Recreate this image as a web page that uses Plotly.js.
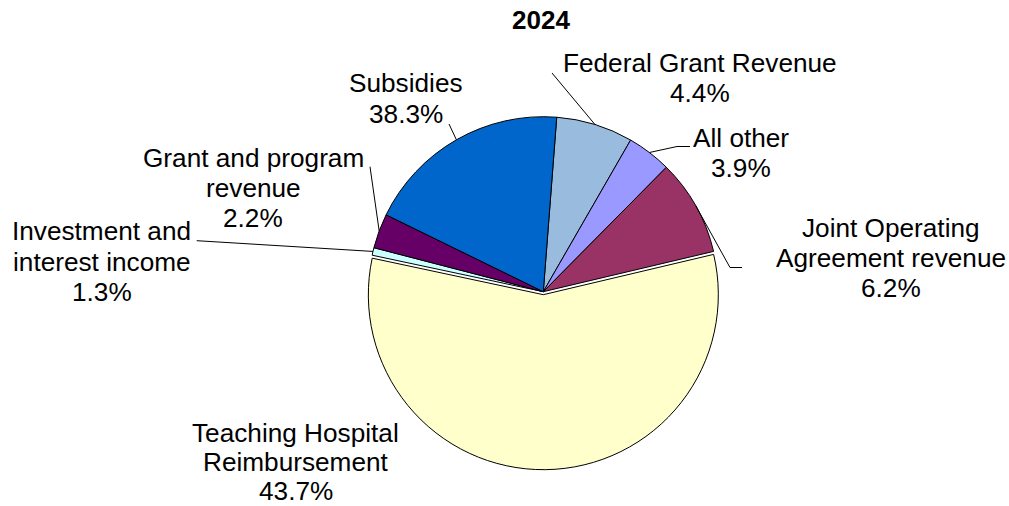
<!DOCTYPE html>
<html><head><meta charset="utf-8">
<script src="https://cdn.plot.ly/plotly-3.0.1.min.js"></script>
<style>html,body{margin:0;padding:0;background:#fff}#chart{width:1009px;height:506px}</style>
</head><body><div id="chart"></div>
<script>
// ---- data ----
const titleText = "2024";
const categories = ["Federal Grant Revenue","All other","Joint Operating Agreement revenue","Teaching Hospital Reimbursement","Investment and interest income","Grant and program revenue","Subsidies"];
const sliceValues = [7.1, 4.1, 8.9, 57.1, 0.7, 3.2, 19.0];
const percentLabels = ["4.4%","3.9%","6.2%","43.7%","1.3%","2.2%","38.3%"];
const sliceColors = ["#99BBDD","#9999FF","#993366","#FFFFCC","#CCFFFF","#660066","#0066CC"];
const labelLines = [["Federal Grant Revenue"],["All other"],["Joint Operating","Agreement revenue"],["Teaching Hospital","Reimbursement"],["Investment and","interest income"],["Grant and program","revenue"],["Subsidies"]];

// ---- layout settings ----
const W = 1009, H = 506;
const CX = 543.3, CY = 291.7, R = 175, PULL = 0.017, ROT = 4.4;
const FS = 26.2;
const pulls = categories.map((c, i) => i === 3 ? PULL : 0);
// label block: center x, first baseline y, line spacing (px)
const labelPos = [[700.2,71.7,30],[740.8,146.7,30],[890.5,236.7,30],[295.5,441.5,29.2],[101.7,240,30.5],[253.3,166.7,30.3],[405.5,91.7,31]];
// leader line points from label side toward slice (rim point appended from data)
const leaderEnds = [[[552,73]],[[690,146.5],[677,146.5]],[[742,267.5],[730,267.5]],null,[[196.7,240.7]],[[370,166.7]],[[449,124]]];

const px = x => x / W, py = y => 1 - y / H;
const total = sliceValues.reduce((a, b) => a + b, 0);
let cum = 0;
const rimPts = sliceValues.map(v => {
  const mid = (ROT + 360 * (cum + v / 2) / total) * Math.PI / 180;
  cum += v;
  return [CX + R * Math.sin(mid), CY - R * Math.cos(mid)];
});

const annotations = [];
const font = {family: "Liberation Sans, Arial, sans-serif", size: FS, color: "#000"};
annotations.push({text: titleText, x: px(540.5), y: py(29.3 - 9), xref: "paper", yref: "paper",
  xanchor: "center", yanchor: "middle", showarrow: false, borderpad: 0,
  font: Object.assign({}, font, {size: 26, weight: "bold"})});
labelLines.forEach((lines, i) => {
  const all = lines.concat([percentLabels[i]]);
  all.forEach((t, k) => {
    annotations.push({text: t, x: px(labelPos[i][0]), y: py(labelPos[i][1] + k * labelPos[i][2] - 9),
      xref: "paper", yref: "paper", xanchor: "center", yanchor: "middle", showarrow: false,
      borderpad: 0, font: font});
  });
});
const shapes = [];
leaderEnds.forEach((pts, i) => {
  if (!pts) return;
  const all = pts.concat([rimPts[i]]);
  const d = all.map((p, k) => (k ? "L" : "M") + px(p[0]).toFixed(5) + "," + py(p[1]).toFixed(5)).join(" ");
  shapes.push({type: "path", path: d, xref: "paper", yref: "paper", line: {color: "#000", width: 1}});
});

const half = R * (1 + PULL);
const trace = {
  type: "pie", labels: categories, values: sliceValues, sort: false, direction: "clockwise",
  rotation: ROT, pull: pulls, textinfo: "none", hoverinfo: "label+percent", showlegend: false,
  marker: {colors: sliceColors, line: {color: "#000", width: 1}},
  domain: {x: [(CX - half) / W, (CX + half) / W], y: [1 - (CY + half) / H, 1 - (CY - half) / H]}
};
Plotly.newPlot("chart", [trace], {
  width: W, height: H, margin: {l: 0, r: 0, t: 0, b: 0},
  paper_bgcolor: "#fff", plot_bgcolor: "#fff", showlegend: false,
  annotations: annotations, shapes: shapes
}, {displayModeBar: false, staticPlot: true});
</script></body></html>
